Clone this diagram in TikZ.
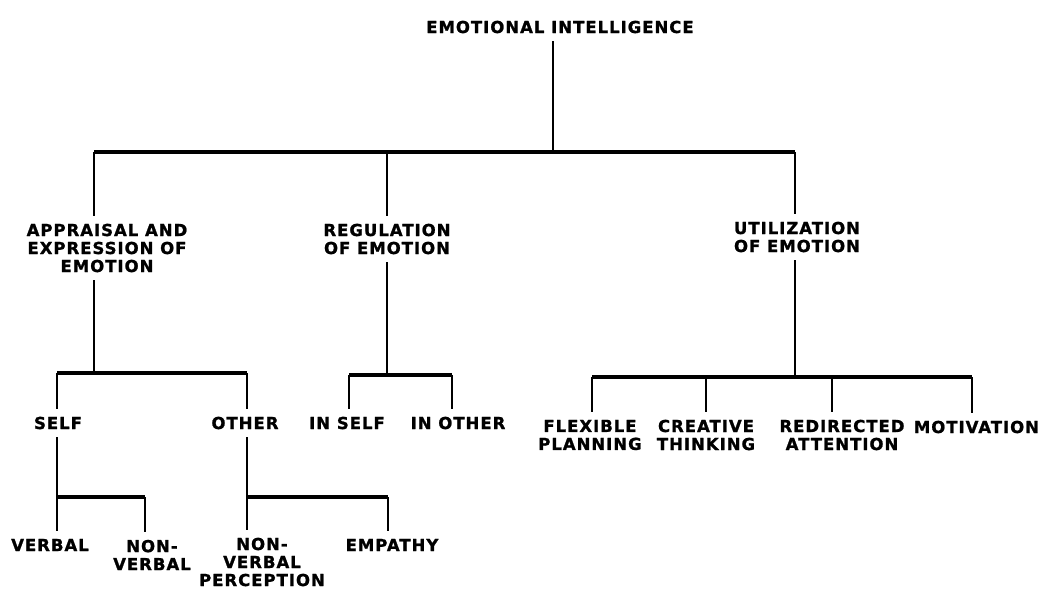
\documentclass[tikz,border=0pt]{standalone}
\usepackage{fontspec}
\setmainfont{DejaVu Sans}
\newfontfamily\lblfont{DejaVu Sans}[LetterSpace=6, FakeBold=1.2]
\usetikzlibrary{positioning,calc}

\begin{document}
\begin{tikzpicture}[
    x=1pt, y=-1pt,
    lbl/.style={font=\lblfont\bfseries\fontsize{16.5}{18}\selectfont, align=center, inner sep=0pt, outer sep=8pt},
    stem/.style={line width=1.6pt},
    bar/.style={line width=3.2pt}
]
\useasboundingbox (0,0) rectangle (1042,590);

% Root
\node[lbl] (ei) at (560,27) {EMOTIONAL INTELLIGENCE};

% Main branches
\node[lbl] (app) at (107,248) {APPRAISAL AND\\EXPRESSION OF\\EMOTION};
\node[lbl] (reg) at (387,239) {REGULATION\\OF EMOTION};
\node[lbl] (uti) at (797,237) {UTILIZATION\\OF EMOTION};

% Appraisal and regulation
\node[lbl] (self) at (58,423) {SELF};
\node[lbl] (other) at (245,423) {OTHER};
\node[lbl] (inself) at (347,423) {IN SELF};
\node[lbl] (inother) at (458,423) {IN OTHER};

% Utilization
\node[lbl] (flex) at (590,435) {FLEXIBLE\\PLANNING};
\node[lbl] (crea) at (706,435) {CREATIVE\\THINKING};
\node[lbl] (redir) at (842,435) {REDIRECTED\\ATTENTION};
\node[lbl, outer sep=0pt, anchor=east] (moti) at (1039,427) {MOTIVATION};

% Self and other
\node[lbl] (verbal) at (50,545) {VERBAL};
\node[lbl] (nonverbal) at (152,555) {NON-\\VERBAL};
\node[lbl] (nvp) at (262,562) {NON-\\VERBAL\\PERCEPTION};
\node[lbl] (empathy) at (392,545) {EMPATHY};

% Junctions
\coordinate (j0) at (553,152);
\coordinate (d1) at (94,152);
\coordinate (d2) at (387,152);
\coordinate (d3) at (795,152);
\coordinate (j1) at (94,373);
\coordinate (e1) at (57,373);
\coordinate (e2) at (247,373);
\coordinate (j2) at (387,375);
\coordinate (f1) at (349,375);
\coordinate (f2) at (452,375);
\coordinate (j3) at (795,377);
\coordinate (g1) at (592,377);
\coordinate (g2) at (706,377);
\coordinate (g3) at (832,377);
\coordinate (g4) at (972,377);
\coordinate (h1) at (57,497);
\coordinate (h2) at (145,497);
\coordinate (k1) at (247,497);
\coordinate (k2) at (388,497);

% Level 1
\draw[stem] (ei.south -| j0) -- (j0);
\draw[bar] (d1) -- (d3);
\draw[stem] (d1) -- (d1 |- app.north);
\draw[stem] (d2) -- (d2 |- reg.north);
\draw[stem] (d3) -- (d3 |- uti.north);

% Appraisal
\draw[stem] (app.south -| j1) -- (j1);
\draw[bar] (e1) -- (e2);
\draw[stem] (e1) -- (e1 |- self.north);
\draw[stem] (e2) -- (e2 |- other.north);

% Regulation
\draw[stem] (reg.south -| j2) -- (j2);
\draw[bar] (f1) -- (f2);
\draw[stem] (f1) -- (f1 |- inself.north);
\draw[stem] (f2) -- (f2 |- inother.north);

% Utilization
\draw[stem] (uti.south -| j3) -- (j3);
\draw[bar] (g1) -- (g4);
\draw[stem] (g1) -- (g1 |- flex.north);
\draw[stem] (g2) -- (g2 |- crea.north);
\draw[stem] (g3) -- (g3 |- redir.north);
\draw[stem] (g4) -- ($(g4 |- moti.north)+(0,-8)$);

% Self
\draw[stem] (self.south -| h1) -- (h1);
\draw[bar] (h1) -- (h2);
\draw[stem] (h1) -- (h1 |- verbal.north);
\draw[stem] (h2) -- (h2 |- nonverbal.north);

% Other
\draw[stem] (other.south -| k1) -- (k1);
\draw[bar] (k1) -- (k2);
\draw[stem] (k1) -- (k1 |- nvp.north);
\draw[stem] (k2) -- (k2 |- empathy.north);

\end{tikzpicture}
\end{document}
